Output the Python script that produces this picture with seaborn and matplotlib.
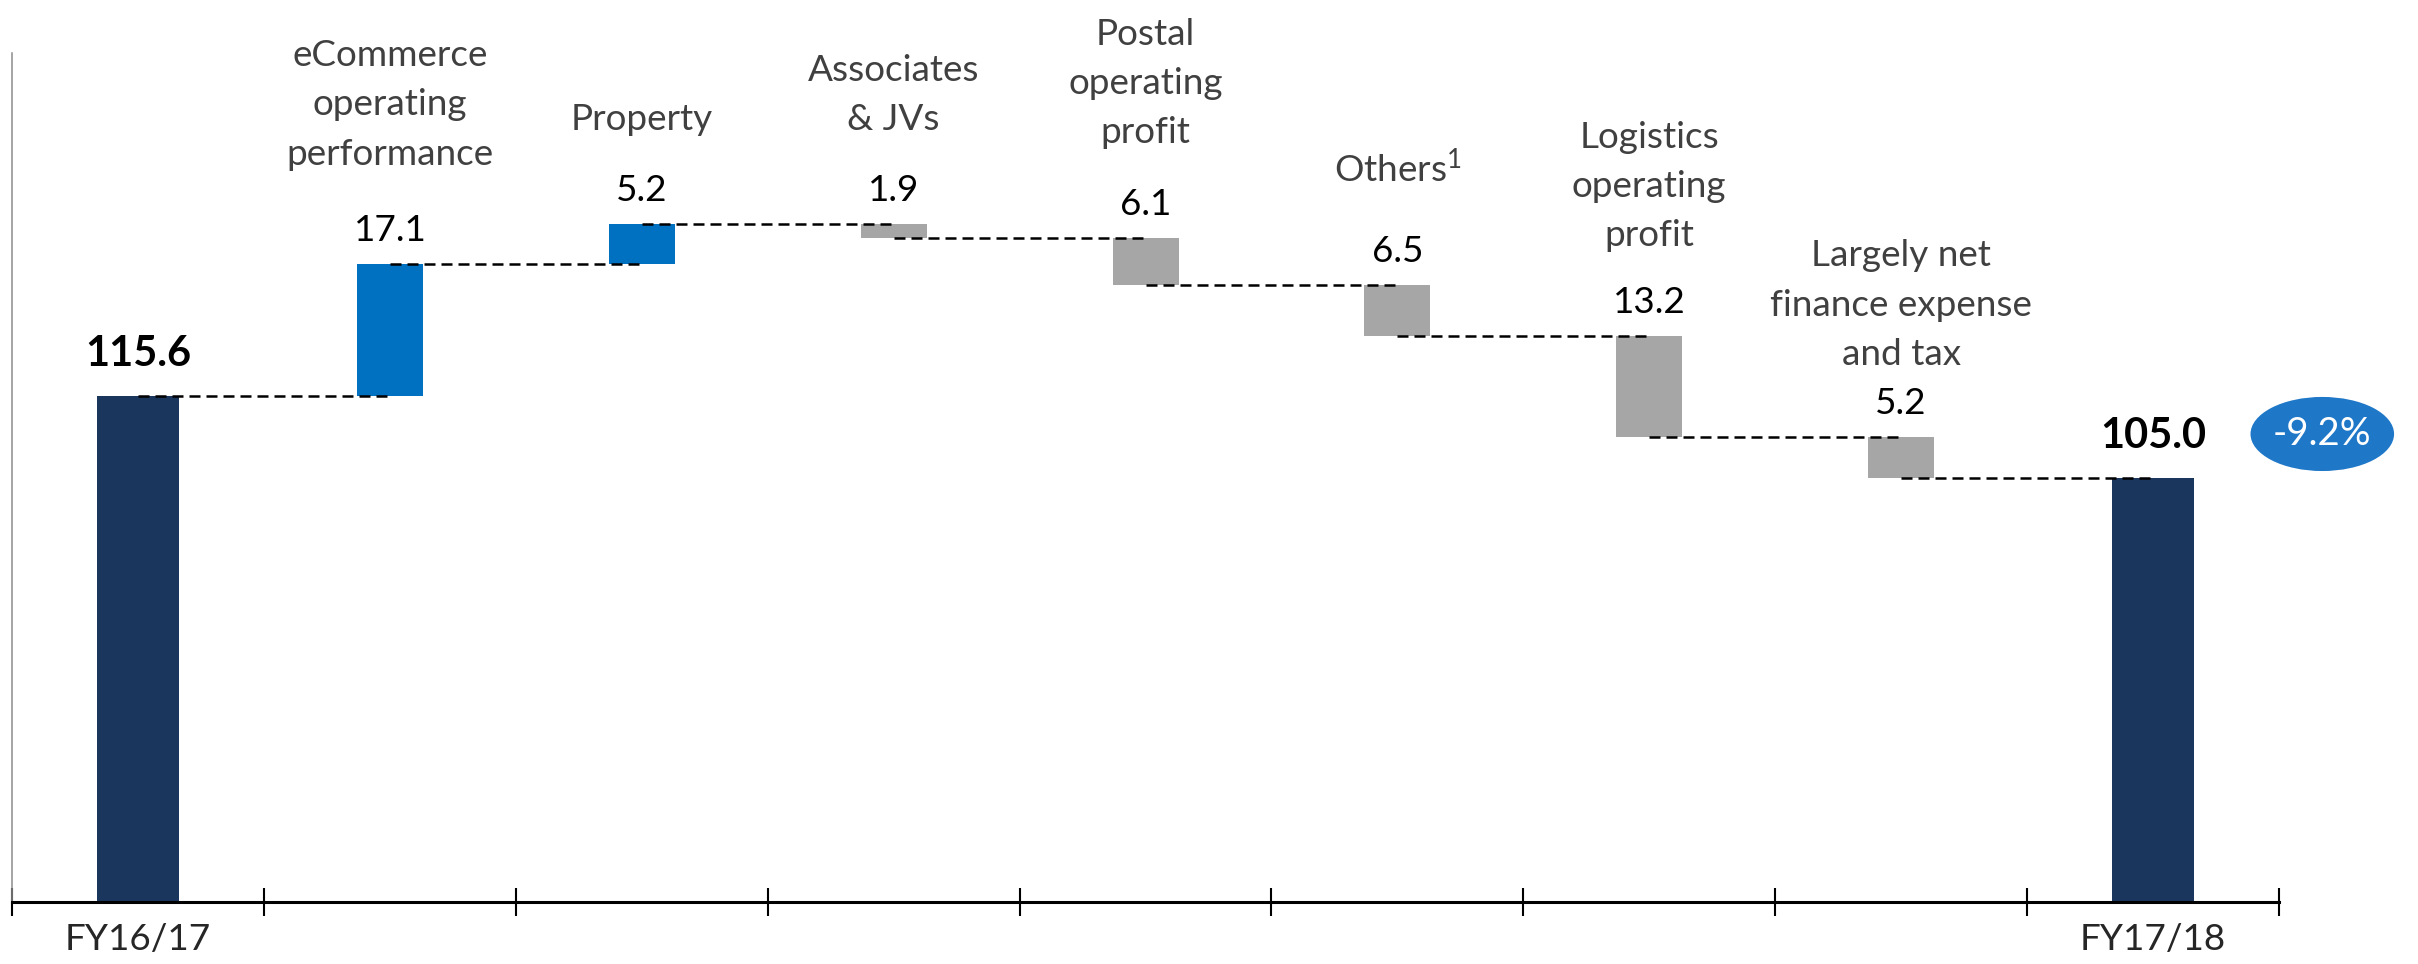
import numpy as np
import pandas as pd
import seaborn as sns
import matplotlib.pyplot as plt
from matplotlib.patches import Ellipse

# waterfall data
steps = ["FY16/17", "eCommerce", "Property", "Associates", "Postal",
         "Others", "Logistics", "Finance", "FY17/18"]
step_labels = ["FY16/17", "eCommerce\noperating\nperformance", "Property",
               "Associates\n& JVs", "Postal\noperating\nprofit", "Others$^{1}$",
               "Logistics\noperating\nprofit", "Largely net\nfinance expense\nand tax",
               "FY17/18"]
start_total = 115.6
end_total = 105.0
deltas = [17.1, 5.2, -1.9, -6.1, -6.5, -13.2, -5.2]

# running level after each bar (first 8 bars)
levels = np.concatenate([[start_total], start_total + np.cumsum(deltas)])
low = np.concatenate([[0], np.minimum(levels[:-1], levels[1:]), [0]])
high = np.concatenate([[start_total], np.maximum(levels[:-1], levels[1:]), [end_total]])
kind = ["total"] + ["up" if d > 0 else "down" for d in deltas] + ["total"]

df = pd.DataFrame({"step": steps, "low": low, "high": high, "kind": kind})
df["size"] = df["high"] - df["low"]

sns.set_style("white")
plt.rcParams["font.family"] = ["Lato", "DejaVu Sans"]
plt.rcParams["mathtext.fontset"] = "custom"
plt.rcParams["mathtext.rm"] = "Lato"
plt.rcParams["mathtext.default"] = "rm"

FS = 26.6
FS_BOLD = 30
label_gap_pt = [67, 63, 63, 64, 70, 60, 48]   # category label height above bar

fig = plt.figure(figsize=(24.18, 9.64), dpi=100)
ax = fig.add_axes([0.005, 0.0643, 0.9375, 0.8807])

bar_styles = [("total", "#1B365D", 0.325), ("up", "#0070C0", 0.262), ("down", "#A6A6A6", 0.262)]
for k, col, w in bar_styles:
    sub = df[df["kind"] == k]
    sns.barplot(data=sub, x="step", y="size", order=steps, color=col, width=w,
                bottom=sub["low"].to_numpy(), errorbar=None, saturation=1,
                linewidth=0, ax=ax)

ax.set_xlim(-0.5, len(steps) - 0.5)
ax.set_ylim(50, 160)

# dashed connectors
for i in range(len(steps) - 1):
    ax.plot([i, i + 1], [levels[i], levels[i]], ls=(0, (4.4, 2.4)), color="black",
            lw=1.8, zorder=4)

# delta values and category labels
for i, d in enumerate(deltas, start=1):
    ax.annotate(f"{abs(d):.1f}", xy=(i, high[i]), xytext=(0, 16.5),
                textcoords="offset points", ha="center", va="baseline",
                fontsize=FS, color="black")
    ax.annotate(step_labels[i], xy=(i, high[i]), xytext=(0, label_gap_pt[i - 1]),
                textcoords="offset points", ha="center", va="bottom",
                fontsize=FS, color="#404040", linespacing=1.6)

# totals
for i in [0, len(steps) - 1]:
    ax.annotate(f"{high[i]:.1f}", xy=(i, high[i]), xytext=(0, 21.5),
                textcoords="offset points", ha="center", va="baseline",
                fontsize=FS_BOLD, fontweight="bold", color="black")

# change bubble
pct = (end_total / start_total - 1) * 100
ex, ey = len(steps) - 1 + 0.672, end_total + 5.64
ax.add_patch(Ellipse((ex, ey), 0.57, 9.6, facecolor="#1F77C8", edgecolor="none",
                     clip_on=False, zorder=5))
ax.text(ex, ey, f"{pct:.1f}%", ha="center", va="center", fontsize=FS + 1,
        color="white", zorder=6)

# axes styling
ax.set_xticks(np.arange(len(steps) + 1) - 0.5, labels=[""] * (len(steps) + 1))
ax.set_xticks([0, len(steps) - 1], labels=[step_labels[0], step_labels[-1]], minor=True)
ax.tick_params(axis="x", which="major", bottom=True, direction="inout", length=19.5,
               width=1.5, color="black")
ax.tick_params(axis="x", which="minor", bottom=True, length=0, pad=15, labelsize=FS,
               labelcolor="#262626")
ax.set_yticks([])
ax.set_xlabel("")
ax.set_ylabel("")
ax.spines["top"].set_visible(False)
ax.spines["right"].set_visible(False)
ax.spines["left"].set_color("#8C8C8C")
ax.spines["left"].set_linewidth(1.1)
ax.spines["bottom"].set_color("black")
ax.spines["bottom"].set_linewidth(2.2)

fig.savefig("out.png", dpi=100)
